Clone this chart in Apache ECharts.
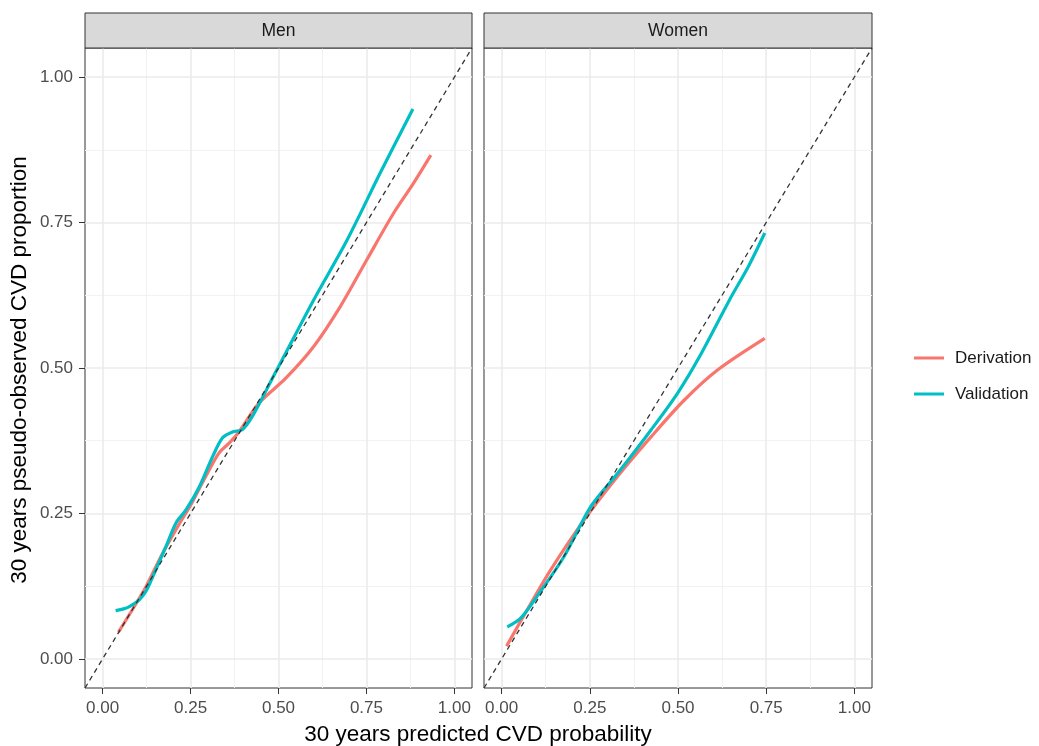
<!DOCTYPE html>
<html>
<head>
<meta charset="utf-8">
<script src="https://cdn.jsdelivr.net/npm/echarts@6/dist/echarts.min.js"></script>
<style>
html,body{margin:0;padding:0;background:#fff;}
#chart{width:1039px;height:746px;}
</style>
</head>
<body>
<div id="chart"></div>
<script>
// ---- data ----
var panels = ['Men', 'Women'];
var seriesNames = ['Derivation', 'Validation'];
var tickValues = [0, 0.25, 0.5, 0.75, 1];
var tickLabels = ['0.00', '0.25', '0.50', '0.75', '1.00'];
var minorValues = [0.125, 0.375, 0.625, 0.875];

var menDerivX = [0.045, 0.085, 0.124, 0.171, 0.216, 0.251, 0.290, 0.331, 0.358, 0.385, 0.445, 0.52, 0.6, 0.676, 0.751, 0.827, 0.883, 0.933];
var menDerivY = [0.046, 0.085, 0.125, 0.182, 0.230, 0.265, 0.310, 0.354, 0.370, 0.388, 0.440, 0.482, 0.537, 0.606, 0.686, 0.766, 0.817, 0.866];

var menValX = [0.037, 0.06, 0.076, 0.105, 0.125, 0.143, 0.162, 0.18, 0.209, 0.237, 0.275, 0.313, 0.341, 0.369, 0.397, 0.426, 0.478, 0.5, 0.6, 0.695, 0.789, 0.882];
var menValY = [0.083, 0.086, 0.090, 0.102, 0.118, 0.142, 0.168, 0.193, 0.234, 0.256, 0.296, 0.348, 0.380, 0.390, 0.394, 0.417, 0.477, 0.502, 0.617, 0.720, 0.835, 0.945];

var womenDerivX = [0.014, 0.073, 0.139, 0.234, 0.329, 0.424, 0.518, 0.613, 0.746];
var womenDerivY = [0.022, 0.085, 0.153, 0.239, 0.314, 0.382, 0.445, 0.497, 0.551];

var womenValX = [0.016, 0.054, 0.101, 0.177, 0.253, 0.329, 0.424, 0.499, 0.566, 0.646, 0.70, 0.746];
var womenValY = [0.055, 0.070, 0.108, 0.176, 0.262, 0.319, 0.394, 0.457, 0.525, 0.617, 0.675, 0.732];

var refLine = [-0.05, 1.05];
var axisMin = -0.05, axisMax = 1.05;

var xTitle = '30 years predicted CVD probability';
var yTitle = '30 years pseudo-observed CVD proportion';

// ---- build ----
function pairs(xs, ys){ return xs.map(function(x,i){ return [x, ys[i]]; }); }
var FONT = '"Liberation Sans", Arial, sans-serif';
var RED = '#F8766D', TEAL = '#00BFC4';

var gridsPx = [{left:85, top:48, width:387, height:640}, {left:484, top:48, width:388, height:640}];

var grids = gridsPx.map(function(g){
  return {left:g.left, top:g.top, width:g.width, height:g.height, show:true,
          borderColor:'#333333', borderWidth:1, backgroundColor:'#ffffff', containLabel:false};
});

function fmt(v){ var i = tickValues.indexOf(+(+v).toFixed(3)); return i >= 0 ? tickLabels[i] : (+v).toFixed(2); }

var xAxes = [], yAxes = [];
for (var p = 0; p < 2; p++) {
  xAxes.push({gridIndex:p, type:'value', min:axisMin, max:axisMax, position:'bottom',
    axisLine:{show:false, onZero:false},
    axisTick:{show:true, length:6, inside:false, customValues:tickValues, lineStyle:{color:'#333333', width:1}},
    axisLabel:{show:true, customValues:tickValues, formatter:fmt,
               color:'#4D4D4D', fontSize:17, fontFamily:FONT, margin:12},
    splitLine:{show:true, lineStyle:{color:'#EBEBEB', width:1.6}}, z:1});
  xAxes.push({gridIndex:p, type:'value', min:axisMin, max:axisMax, position:'bottom',
    axisLine:{show:false, onZero:false}, axisTick:{show:false, customValues:minorValues},
    axisLabel:{show:false, customValues:minorValues},
    splitLine:{show:true, lineStyle:{color:'#F2F2F2', width:1}}, z:0});
  yAxes.push({gridIndex:p, type:'value', min:axisMin, max:axisMax, position:'left',
    axisLine:{show:false, onZero:false},
    axisTick:{show:p===0, length:6, customValues:tickValues, lineStyle:{color:'#333333', width:1}},
    axisLabel:{show:p===0, customValues:tickValues, formatter:fmt,
               color:'#4D4D4D', fontSize:17, fontFamily:FONT, margin:12},
    splitLine:{show:true, lineStyle:{color:'#EBEBEB', width:1.6}}, z:1});
  yAxes.push({gridIndex:p, type:'value', min:axisMin, max:axisMax, position:'left',
    axisLine:{show:false, onZero:false}, axisTick:{show:false, customValues:minorValues},
    axisLabel:{show:false, customValues:minorValues},
    splitLine:{show:true, lineStyle:{color:'#F2F2F2', width:1}}, z:0});
}

var panelData = [
  [pairs(menDerivX, menDerivY), pairs(menValX, menValY)],
  [pairs(womenDerivX, womenDerivY), pairs(womenValX, womenValY)]
];
var colors = [RED, TEAL];

var series = [];
for (var p2 = 0; p2 < 2; p2++) {
  for (var s = 0; s < 2; s++) {
    series.push({name:seriesNames[s], type:'line', xAxisIndex:p2*2, yAxisIndex:p2*2,
      data:panelData[p2][s], showSymbol:false, symbol:'none', smooth:0.3,
      lineStyle:{color:colors[s], width:3.2}, itemStyle:{color:colors[s]}, z:3, clip:true, silent:true});
  }
  series.push({name:'ref'+p2, type:'line', xAxisIndex:p2*2, yAxisIndex:p2*2,
    data:pairs(refLine, refLine), showSymbol:false, symbol:'none',
    lineStyle:{color:'#333333', width:1.3, type:[5,4]}, z:4, clip:true, silent:true});
}

var graphics = [];
gridsPx.forEach(function(g, i){
  graphics.push({type:'rect', shape:{x:g.left, y:13, width:g.width, height:35},
    style:{fill:'#D9D9D9', stroke:'#333333', lineWidth:1}, z:10});
  graphics.push({type:'text', x:g.left + g.width/2, y:31,
    style:{text:panels[i], fill:'#1A1A1A', font:'17.5px ' + FONT, textAlign:'center', textVerticalAlign:'middle'}, z:11});
});
graphics.push({type:'text', x:478, y:735,
  style:{text:xTitle, fill:'#000000', font:'22.5px ' + FONT, textAlign:'center', textVerticalAlign:'middle'}});
graphics.push({type:'text', x:20, y:370, rotation:Math.PI/2,
  style:{text:yTitle, fill:'#000000', font:'22.5px ' + FONT, textAlign:'center', textVerticalAlign:'middle'}});

var chart = echarts.init(document.getElementById('chart'), null, {renderer:'canvas'});
chart.setOption({
  animation:false,
  backgroundColor:'#ffffff',
  grid:grids,
  xAxis:xAxes,
  yAxis:yAxes,
  legend:{data:seriesNames, orient:'vertical', left:909, top:343, itemWidth:30, itemHeight:3,
    icon:'rect', itemGap:16,
    textStyle:{fontSize:17, fontFamily:FONT, color:'#1A1A1A', lineHeight:20, padding:[0,0,0,6]}},
  series:series,
  graphic:graphics
});
</script>
</body>
</html>
